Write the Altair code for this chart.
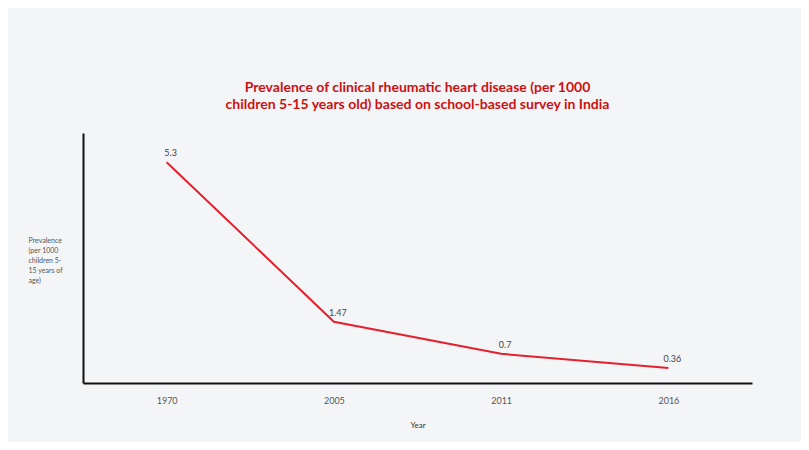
import altair as alt
import pandas as pd

years = ["1970", "2005", "2011", "2016"]
values = [5.3, 1.47, 0.7, 0.36]
labels = ["5.3", "1.47", "0.7", "0.36"]

df = pd.DataFrame({"Year": years, "Value": values, "Label": labels})

base = alt.Chart(df)

x = alt.X("Year:O", sort=years, scale=alt.Scale(type="point", padding=0.5),
          axis=alt.Axis(title="Year", labelAngle=0, ticks=False, domainColor="#111111",
                        domainWidth=2, labelColor="#555555", labelFontSize=9,
                        labelPadding=13, titleFontSize=8, titleColor="#333333",
                        titleFontWeight="normal", titlePadding=16, grid=False))
y = alt.Y("Value:Q", scale=alt.Scale(domain=[0, 6]),
          axis=alt.Axis(title=["Prevalence", "(per 1000", "children 5-", "15 years of", "age)"],
                        titleAngle=0, titleX=-55, titleY=103, titleAlign="left",
                        titleBaseline="top", titleFontSize=7, titleFontWeight="normal",
                        titleColor="#555555", titleLineHeight=10,
                        labels=False, ticks=False, grid=False, domainColor="#111111",
                        domainWidth=2))

line = base.mark_line(color="#e5202e", strokeWidth=2).encode(x=x, y=y)
text = base.mark_text(dy=-9, dx=4, fontSize=9, color="#444444", font="Lato").encode(
    x=alt.X("Year:O", sort=years), y="Value:Q", text="Label:N")

chart = (line + text).properties(
    width=669, height=250,
    title=alt.TitleParams(
        ["Prevalence of clinical rheumatic heart disease (per 1000",
         "children 5-15 years old) based on school-based survey in India"],
        color="#cc1111", fontSize=14, font="Lato", fontWeight="bold",
        anchor="middle", offset=21, lineHeight=17),
    background="#f4f5f7",
    padding={"left": 75, "top": 125, "right": 49, "bottom": 59},
    autosize=alt.AutoSizeParams(type="none"),
).configure_view(stroke=None).configure_axis(labelFont="Lato", titleFont="Lato")

chart.save("out.html", embed_options={"renderer": "svg", "actions": False})
